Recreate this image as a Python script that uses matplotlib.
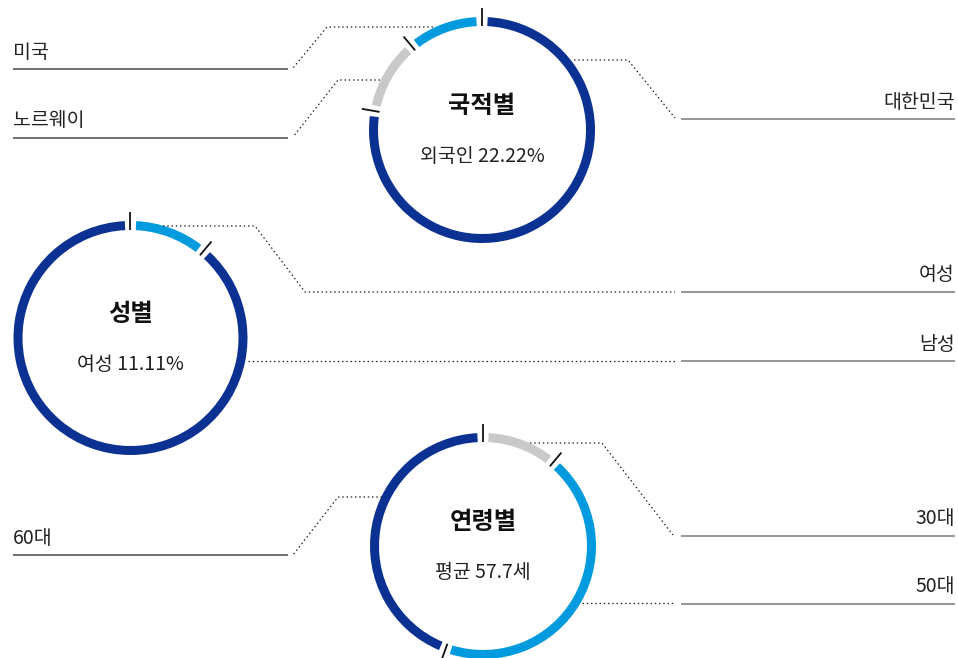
import numpy as np
import matplotlib
matplotlib.use("Agg")
import matplotlib.pyplot as plt
from matplotlib.patches import Wedge

plt.rcParams['font.family'] = ['Noto Sans CJK KR', 'DejaVu Sans']

# ---- data (head counts, 9 people) ----
nat_labels = ['대한민국', '노르웨이', '미국']
nat_counts = [7, 1, 1]

gender_labels = ['여성', '남성']
gender_counts = [1, 8]

age_labels = ['30대', '50대', '60대']
age_counts = [1, 4, 4]
age_mean = 57.7

DARK = '#0b3192'
LIGHT = '#009ade'
GRAY = '#c8c9ca'

nat_colors = [DARK, GRAY, LIGHT]
gender_colors = [LIGHT, DARK]
age_colors = [GRAY, LIGHT, DARK]

W, H = 958, 658
fig = plt.figure(figsize=(W / 100, H / 100), dpi=100)
ax = fig.add_axes([0, 0, 1, 1])
ax.set_xlim(0, W)
ax.set_ylim(H, 0)
ax.set_aspect('equal')
ax.axis('off')


def ring(cx, cy, r, counts, colors, width=9, gap_px=5.5):
    """Segmented donut, clockwise from 12 o'clock, with a tick at each boundary."""
    total = float(sum(counts))
    bounds = np.concatenate([[0], np.cumsum(counts)]) / total * 360.0
    gap = np.degrees(gap_px / (r - width / 2))
    for a0, a1, c in zip(bounds[:-1], bounds[1:], colors):
        ax.add_patch(Wedge((cx, cy), r, a0 - 90 + gap, a1 - 90 - gap,
                           width=width, facecolor=c, edgecolor='none'))
    for a in bounds[:-1]:
        t = np.radians(a - 90)
        r0, r1 = r - width, r + 9
        ax.plot([cx + r0 * np.cos(t), cx + r1 * np.cos(t)],
                [cy + r0 * np.sin(t), cy + r1 * np.sin(t)],
                color='#111111', lw=1.3, solid_capstyle='butt')


def centre_text(cx, cy, title, sub):
    ax.text(cx, cy - 24, title, ha='center', va='center',
            fontsize=17.5, fontweight='bold', color='#111111')
    ax.text(cx, cy + 27, sub, ha='center', va='center',
            fontsize=14, color='#222222')


def leader(points):
    xs, ys = zip(*points)
    ax.plot(xs, ys, color='#222222', lw=0.9, linestyle=(0, (1.2, 2.2)))


def label(text, y, side):
    if side == 'left':
        ax.plot([13, 288], [y, y], color='#4a4a4a', lw=1.1, solid_capstyle='butt')
        ax.text(13, y - 11.5, text, ha='left', va='baseline',
                fontsize=14, color='#222222')
    else:
        ax.plot([681, 955], [y, y], color='#7a7a7a', lw=1.1, solid_capstyle='butt')
        ax.text(955, y - 11.5, text, ha='right', va='baseline',
                fontsize=14, color='#222222')


# ---- 국적별 ----
cx, cy = 482, 130
ring(cx, cy, 113, nat_counts, nat_colors)
foreign = 100.0 * sum(nat_counts[1:]) / sum(nat_counts)
centre_text(cx, cy, '국적별', f'외국인 {foreign:.2f}%')
leader([(433, 27), (327, 27), (293, 68)])
leader([(380, 80), (338, 80), (293, 137)])
leader([(574, 60), (628, 60), (675, 118)])
label(nat_labels[2], 69, 'left')
label(nat_labels[1], 138, 'left')
label(nat_labels[0], 119, 'right')

# ---- 성별 ----
cx, cy = 130.5, 338
ring(cx, cy, 117, gender_counts, gender_colors)
female = 100.0 * gender_counts[0] / sum(gender_counts)
centre_text(cx, cy, '성별', f'여성 {female:.2f}%')
leader([(163, 226), (255, 226), (305, 292), (675, 292)])
leader([(248, 361), (675, 361)])
label(gender_labels[0], 292, 'right')
label(gender_labels[1], 361, 'right')

# ---- 연령별 ----
cx, cy = 483, 546
ring(cx, cy, 113, age_counts, age_colors)
centre_text(cx, cy, '연령별', f'평균 {age_mean}세')
leader([(530, 443), (602, 443), (673, 535)])
leader([(582, 603), (675, 603)])
leader([(382, 497), (338, 497), (293, 555)])
label(age_labels[0], 536, 'right')
label(age_labels[1], 604, 'right')
label(age_labels[2], 555, 'left')

fig.savefig('out.png', dpi=100, facecolor='white')
